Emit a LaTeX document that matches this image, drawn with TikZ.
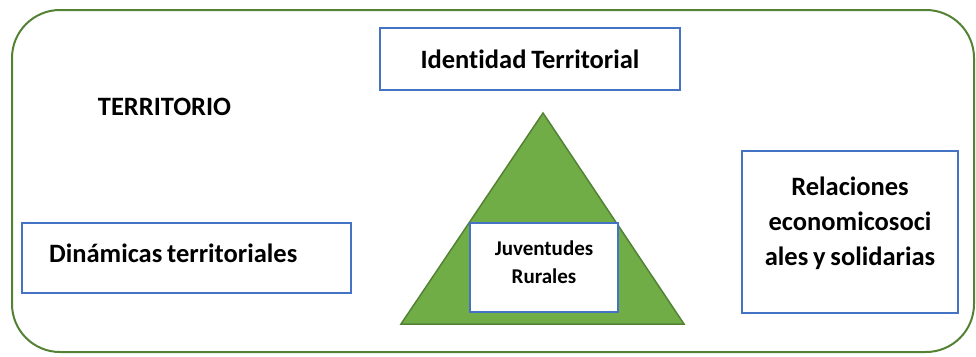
\documentclass[tikz,border=0pt]{standalone}
\usepackage{fontspec}
\setmainfont{Carlito}[Ligatures=NoCommon, WordSpace=0.8]
\definecolor{boxblue}{HTML}{4472C4}
\definecolor{leafgreen}{HTML}{70AD47}
\definecolor{darkgreen}{HTML}{548235}
\tikzset{
	box/.style={draw=boxblue, line width=2pt, fill=white, inner sep=0pt},
	label/.style={font=\bfseries\fontsize{26.5}{33}\selectfont}
}
\begin{document}
\begin{tikzpicture}[x=1pt, y=-1pt]
		\useasboundingbox (0, 0) rectangle (976, 356);
		\draw [darkgreen, line width=2pt, rounded corners=48pt] (12, 10) rectangle (974, 352);
		
		\coordinate (top) at (543, 113);
		\coordinate (left) at (401, 324);
		\coordinate (right) at (684, 324);
		\draw [darkgreen, fill=leafgreen, line width=1.5pt] (top) -- (left) -- (right) -- cycle;
		
		\draw node at (530, 59) [box, label, minimum width=300pt, minimum height=62pt] (identidad) {Identidad Territorial};
		\draw node at (164.5, 107) [label] (territorio) {TERRITORIO};
		\draw node at (186.5, 258) [box, minimum width=329pt, minimum height=70pt] (dinamicas) {};
		\draw node at ([xshift=28pt, yshift=5pt]dinamicas.west) [label, anchor=west, inner sep=0pt] (dinamicastxt) {Dinámicas territoriales};
		\draw node at (544, 267.5) [box, minimum width=148pt, minimum height=89pt] (juventudes) {};
		\draw node at ([yshift=5pt]juventudes.center) [font=\bfseries\fontsize{21}{28}\selectfont, align=center] (juventudestxt) {Juventudes\\Rurales};
		\draw node at (850, 232) [box, minimum width=216pt, minimum height=162pt] (relaciones) {};
		\draw node at ([yshift=9pt]relaciones.center) [font=\bfseries\fontsize{26.5}{35}\selectfont, align=center] (relacionestxt) {Relaciones\\economicosoci\\ales y solidarias};
	\end{tikzpicture}
\end{document}
